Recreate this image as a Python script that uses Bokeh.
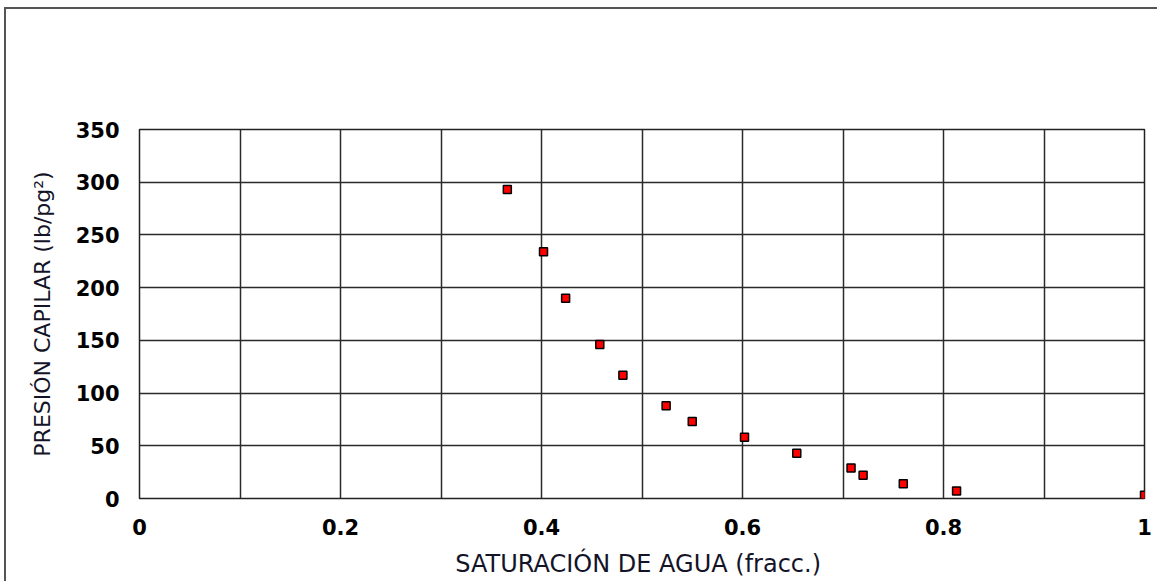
from bokeh.plotting import figure
from bokeh.models import FixedTicker, Range1d
from bokeh.embed import file_html
from bokeh.resources import INLINE

# Data
saturacion = [0.366, 0.402, 0.424, 0.458, 0.481, 0.524, 0.550, 0.602, 0.654, 0.708, 0.720, 0.760, 0.813, 1.0]
presion = [293, 234, 190, 146, 117, 88, 73, 58, 43, 29, 22, 14, 7, 3]

x_ticks = [0, 0.2, 0.4, 0.6, 0.8, 1.0]
x_tick_labels = ["0", "0.2", "0.4", "0.6", "0.8", "1"]
x_grid = [0, 0.1, 0.2, 0.3, 0.4, 0.5, 0.6, 0.7, 0.8, 0.9, 1.0]
y_ticks = [0, 50, 100, 150, 200, 250, 300, 350]

p = figure(width=1153, height=574, output_backend="svg", toolbar_location=None,
           x_range=Range1d(0, 1), y_range=Range1d(0, 350),
           min_border_left=133, min_border_top=120, min_border_right=15, min_border_bottom=85)
p.styles = {"border-left": "2px solid #555", "border-top": "2px solid #555",
            "margin-left": "4px", "margin-top": "7px"}

p.background_fill_color = "white"
p.border_fill_color = "white"
p.outline_line_color = "#222"
p.outline_line_width = 1.5

grid_col = "#2a2a2a"
p.xgrid.ticker = FixedTicker(ticks=x_grid)
p.ygrid.ticker = FixedTicker(ticks=y_ticks)
for g in (p.xgrid, p.ygrid):
    g.grid_line_color = grid_col
    g.grid_line_width = 1.5

p.xaxis.ticker = FixedTicker(ticks=x_ticks)
p.xaxis.major_label_overrides = {t: l for t, l in zip(x_ticks, x_tick_labels)}
p.yaxis.ticker = FixedTicker(ticks=y_ticks)

for ax in (p.xaxis, p.yaxis):
    ax.axis_line_color = None
    ax.major_tick_line_color = None
    ax.minor_tick_line_color = None
    ax.major_tick_out = 0
    ax.major_tick_in = 0
    ax.major_label_text_font = "DejaVu Sans"
    ax.major_label_text_font_style = "bold"
    ax.major_label_text_font_size = "21px"
    ax.major_label_text_color = "black"
    ax.axis_label_text_font = "DejaVu Sans"
    ax.axis_label_text_font_style = "normal"
    ax.axis_label_text_color = "#141428"
    ax.major_label_standoff = 20

p.xaxis.axis_label = "SATURACIÓN DE AGUA  (fracc.)"
p.yaxis.axis_label = "PRESIÓN CAPILAR (lb/pg²)"
p.xaxis.axis_label_text_font_size = "24px"
p.yaxis.axis_label_text_font_size = "22px"
p.xaxis.axis_label_standoff = 12
p.yaxis.axis_label_standoff = 18

p.scatter(saturacion, presion, marker="square", size=8,
          fill_color="#ff0000", line_color="black", line_width=1.5)

open("out.html", "w").write(file_html(p, INLINE))
